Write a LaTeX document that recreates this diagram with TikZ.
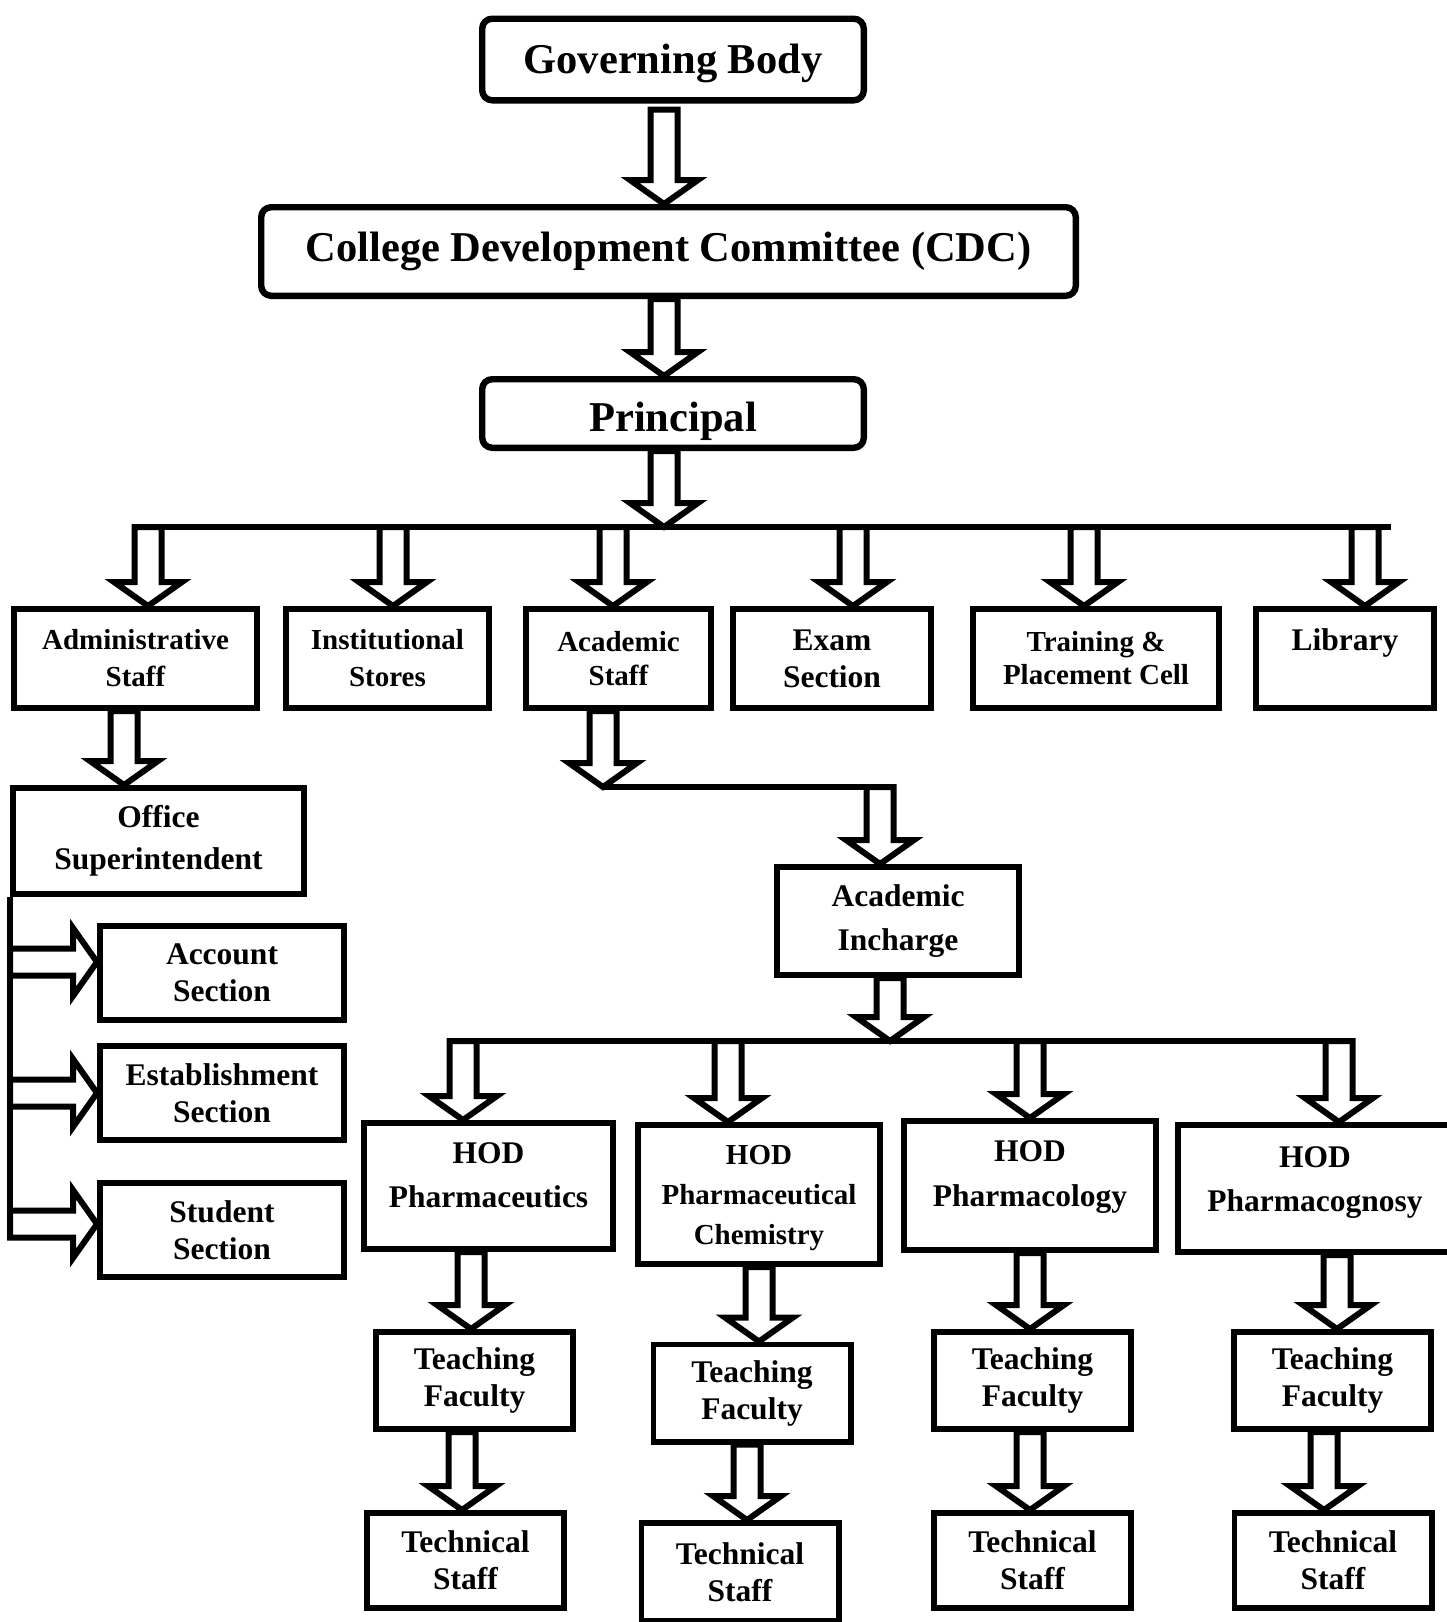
\documentclass[tikz,border=0pt]{standalone}
\usepackage{fontspec}
\setmainfont{Liberation Serif}
\usetikzlibrary{positioning,calc}

% sizes of the hollow block arrows
\newcommand{\arrsw}{6.75pt}
\newcommand{\arrhw}{17pt}
\newcommand{\arrhl}{12pt}

\tikzset{
  topbox/.style={draw=black, line width=3.2pt, rounded corners=5pt, align=center, inner sep=0pt,
    font=\bfseries\fontsize{21.25}{25}\selectfont},
  unit/.style={draw=black, line width=2.8pt, align=center, inner sep=0pt,
    font=\bfseries\fontsize{15.75}{18.5}\selectfont},
  unitsm/.style={unit, font=\bfseries\fontsize{14.5}{18.5}\selectfont},
  rowbox/.style={minimum height=49.7pt},
  secbox/.style={unit, minimum width=122.2pt, minimum height=47.2pt},
  tfbox/.style={unit, minimum width=98.7pt, minimum height=48.7pt},
  tsbox/.style={unit, minimum width=98.7pt, minimum height=47.7pt},
  bar/.style={draw=black, line width=3pt},
  hollow/.style={draw=black, line width=3pt, fill=white,
    to path={
      ($(\tikztostart)!\arrsw!90:(\tikztotarget)$)
      -- ($($(\tikztotarget)!\arrhl!(\tikztostart)$)!\arrsw!90:(\tikztotarget)$)
      -- ($($(\tikztotarget)!\arrhl!(\tikztostart)$)!\arrhw!90:(\tikztotarget)$)
      -- (\tikztotarget)
      -- ($($(\tikztotarget)!\arrhl!(\tikztostart)$)!\arrhw!-90:(\tikztotarget)$)
      -- ($($(\tikztotarget)!\arrhl!(\tikztostart)$)!\arrsw!-90:(\tikztotarget)$)
      -- ($(\tikztostart)!\arrsw!-90:(\tikztotarget)$)
      -- cycle}}
}

\begin{document}
\begin{tikzpicture}[x=0.5pt, y=-0.5pt]
\useasboundingbox (0,0) rectangle (1446,1622);

% top of the chart
\node[topbox, minimum width=190.8pt, minimum height=40.8pt, text height=18.7pt] (gov) at (673,59.5) {Governing Body};
\node[topbox, minimum width=407.3pt, minimum height=44.3pt] (cdc) at (668.5,251.5) {College Development Committee (CDC)};
\node[topbox, minimum width=190.8pt, minimum height=34.3pt, text height=22.7pt] (prin) at (673,413.5) {Principal};

% sections under the principal
\node[unitsm, rowbox, minimum width=121.7pt] (adm) at (135.5,658.5) {Administrative\\Staff};
\node[unitsm, rowbox, minimum width=101.7pt] (ins) at (387.5,658.5) {Institutional\\Stores};
\node[unitsm, rowbox, minimum width=92.7pt] (acs) at (618.5,658.5) {Academic\\[-1.5pt]Staff};
\node[unit, rowbox, minimum width=99.2pt] (exam) at (832,658.5) {Exam\\Section};
\node[unitsm, rowbox, minimum width=123.2pt] (tpc) at (1096,658.5) {Training \&\\[-2pt]Placement Cell};
\node[unit, rowbox, minimum width=89.2pt] (lib) at (1345,658.5) {Library\\\mbox{}};

% office side
\node[unit, minimum width=145.7pt, minimum height=53.2pt] (office) at (158.5,841) {Office\\[2.7pt]Superintendent};
\node[secbox] (acc) at (222,973) {Account\\Section};
\node[secbox] (est) at (222,1093) {Establishment\\Section};
\node[secbox] (stu) at (222,1230) {Student\\Section};

% academic side
\node[unit, minimum width=121.2pt, minimum height=54.2pt] (inch) at (898,921) {Academic\\[3.7pt]Incharge};
\node[unit, minimum width=124.7pt, minimum height=63.2pt, text depth=11pt] (hodA) at (488.5,1186) {HOD\\[3.2pt]Pharmaceutics};
\node[unitsm, minimum width=121.2pt, minimum height=69.7pt, text depth=0pt] (hodB) at (759,1194.5) {HOD\\[1.5pt]Pharmaceutical\\[1.5pt]Chemistry};
\node[unit, minimum width=126.2pt, minimum height=64.7pt, text depth=12pt] (hodC) at (1030,1185.5) {HOD\\[3.7pt]Pharmacology};
\node[unit, minimum width=137.2pt, minimum height=63.7pt, text depth=9.5pt] (hodD) at (1315,1188.5) {HOD\\[3.7pt]Pharmacognosy};

\node[tfbox] (tfA) at (474.5,1380.5) {Teaching\\Faculty};
\node[tfbox] (tfB) at (752,1393) {Teaching\\Faculty};
\node[tfbox] (tfC) at (1032.5,1380.5) {Teaching\\Faculty};
\node[tfbox] (tfD) at (1332.5,1380.5) {Teaching\\Faculty};

\node[tsbox] (tsA) at (465.5,1560.5) {Technical\\Staff};
\node[unit, minimum width=98.7pt, minimum height=49.2pt] (tsB) at (740,1572) {Technical\\Staff};
\node[tsbox] (tsC) at (1032.5,1560.5) {Technical\\Staff};
\node[tsbox] (tsD) at (1333,1560.5) {Technical\\Staff};

% joints of the connector lines
\coordinate (fanL) at (134.5,527);
\coordinate (fanR) at (1391,527);
\coordinate (acjoin) at (603,787);
\coordinate (acend) at (893.5,787);
\coordinate (hodL) at (448.5,1041);
\coordinate (hodR) at (1352.5,1041);

\draw[bar] (fanL) -- (fanR);
\draw[bar] (acjoin) -- (acend);
\draw[bar] (hodL) -- (hodR);
\draw[bar] (office.south west) -- ([yshift=-3.75pt]stu.west -| office.south west);

% arrows down the chart
\draw[hollow] ([xshift=-4.5pt,yshift=-3pt]gov.south) to ([xshift=-4.5pt]gov.south |- cdc.north);
\draw[hollow] ([xshift=-2.25pt]cdc.south) to ([xshift=-2.25pt]cdc.south |- prin.north);
\draw[hollow] ([xshift=-4.5pt]prin.south) to ([xshift=-4.5pt]prin.south |- fanL);

\draw[hollow] ([xshift=6.25pt]adm.north |- fanL) to ([xshift=6.25pt]adm.north);
\draw[hollow] ([xshift=2.75pt]ins.north |- fanL) to ([xshift=2.75pt]ins.north);
\draw[hollow] ([xshift=-2.75pt]acs.north |- fanL) to ([xshift=-2.75pt]acs.north);
\draw[hollow] ([xshift=10.5pt]exam.north |- fanL) to ([xshift=10.5pt]exam.north);
\draw[hollow] ([xshift=-6pt]tpc.north |- fanL) to ([xshift=-6pt]tpc.north);
\draw[hollow] ([xshift=10pt]lib.north |- fanL) to ([xshift=10pt]lib.north);

\draw[hollow] ([xshift=-5.75pt]adm.south) to ([xshift=-5.75pt]adm.south |- office.north);
\draw[hollow] ([yshift=5.5pt]acc.west -| office.south west) to ([yshift=5.5pt]acc.west);
\draw[hollow] (est.west -| office.south west) to (est.west);
\draw[hollow] ([yshift=3pt]stu.west -| office.south west) to ([yshift=3pt]stu.west);

\draw[hollow] ([xshift=-7.75pt]acs.south) to (acjoin);
\draw[hollow] ([xshift=-9pt]inch.north |- acend) to ([xshift=-9pt]inch.north);
\draw[hollow] ([xshift=-4pt]inch.south) to ([xshift=-4pt]inch.south |- hodL);

\draw[hollow] ([xshift=-12.75pt]hodA.north |- hodL) to ([xshift=-12.75pt]hodA.north);
\draw[hollow] ([xshift=-15.5pt]hodB.north |- hodL) to ([xshift=-15.5pt]hodB.north);
\draw[hollow] (hodC.north |- hodL) to (hodC.north);
\draw[hollow] ([xshift=12pt]hodD.north |- hodL) to ([xshift=12pt]hodD.north);

\draw[hollow] ([xshift=-8.75pt]hodA.south) to ([xshift=-8.75pt]hodA.south |- tfA.north);
\draw[hollow] (hodB.south) to (hodB.south |- tfB.north);
\draw[hollow] (hodC.south) to (hodC.south |- tfC.north);
\draw[hollow] ([xshift=11pt]hodD.south) to ([xshift=11pt]hodD.south |- tfD.north);

\draw[hollow] ([xshift=-6.25pt]tfA.south) to ([xshift=-6.25pt]tfA.south |- tsA.north);
\draw[hollow] ([xshift=-2.5pt]tfB.south) to ([xshift=-2.5pt]tfB.south |- tsB.north);
\draw[hollow] ([xshift=-1.25pt]tfC.south) to ([xshift=-1.25pt]tfC.south |- tsC.north);
\draw[hollow] ([xshift=-4.25pt]tfD.south) to ([xshift=-4.25pt]tfD.south |- tsD.north);
\end{tikzpicture}
\end{document}
